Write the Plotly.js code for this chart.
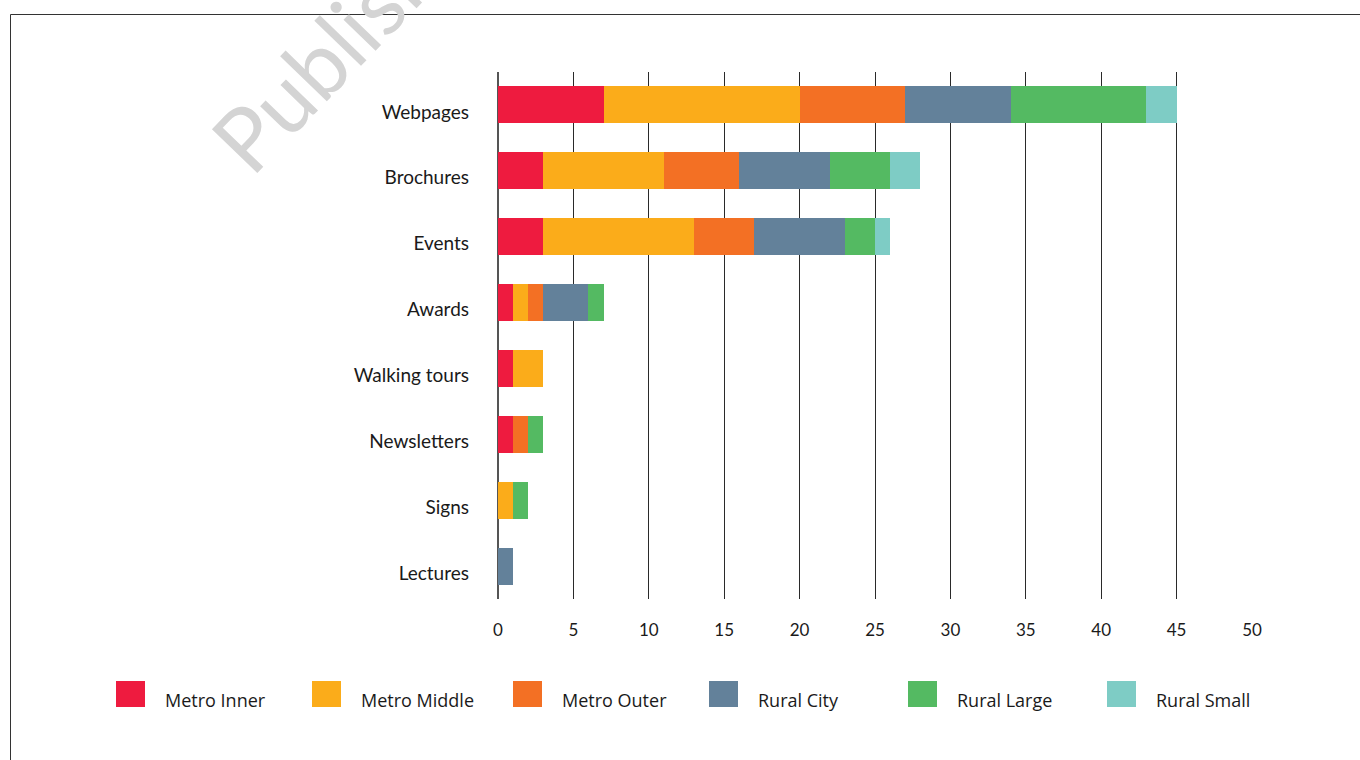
<!DOCTYPE html>
<html>
<head>
<meta charset="utf-8">
<script src="https://cdn.plot.ly/plotly-3.0.1.min.js"></script>
<style>
html,body{margin:0;padding:0;background:#fff;overflow:hidden;}
#chart{width:1360px;height:760px;}
</style>
</head>
<body>
<div id="chart"></div>
<script>
const categories = ["Webpages","Brochures","Events","Awards","Walking tours","Newsletters","Signs","Lectures"];
const seriesNames = ["Metro Inner","Metro Middle","Metro Outer","Rural City","Rural Large","Rural Small"];
const seriesColors = ["#EE1B3F","#FBAC1A","#F37024","#63819A","#54BA62","#7ECCC5"];
const metroInner  = [7, 3, 3, 1, 1, 1, 0, 0];
const metroMiddle = [13, 8, 10, 1, 2, 0, 1, 0];
const metroOuter  = [7, 5, 4, 1, 0, 1, 0, 0];
const ruralCity   = [7, 6, 6, 3, 0, 0, 0, 1];
const ruralLarge  = [9, 4, 2, 1, 0, 1, 1, 0];
const ruralSmall  = [2, 2, 1, 0, 0, 0, 0, 0];
const seriesValues = [metroInner, metroMiddle, metroOuter, ruralCity, ruralLarge, ruralSmall];
const xTicks = [0,5,10,15,20,25,30,35,40,45,50];

// plot area in pixels
const L = 498, R = 1252, T = 72, B = 599;
const px = x => (x - L) / (R - L);
const py = y => (B - y) / (B - T);

const traces = seriesNames.map((n, i) => ({
  type: 'bar', orientation: 'h', name: n,
  x: seriesValues[i], y: categories,
  marker: {color: seriesColors[i], line: {width: 0}},
  hoverinfo: 'x+y+name'
}));

const shapes = [
  // frame
  {type:'rect', xref:'paper', yref:'paper', x0:px(10.5), x1:px(1380), y0:py(14.5), y1:py(780),
   line:{color:'#333', width:1}, fillcolor:'rgba(0,0,0,0)', layer:'below'}
];
const annotations = [
  {text:'Published', xref:'paper', yref:'paper', x:px(358), y:py(20), xanchor:'center', yanchor:'middle',
   showarrow:false, textangle:-46, font:{family:'Lato', size:88, color:'#d4d4d4'}}
];
const legX = [116, 312, 513, 709, 908, 1107];
seriesNames.forEach((n, i) => {
  shapes.push({type:'rect', xref:'paper', yref:'paper', x0:px(legX[i]), x1:px(legX[i]+29),
    y0:py(707), y1:py(681), fillcolor:seriesColors[i], line:{width:0}});
  annotations.push({text:n, xref:'paper', yref:'paper', x:px(legX[i]+47), y:py(700),
    xanchor:'left', yanchor:'middle', showarrow:false,
    font:{family:'Open Sans', size:18, color:'#1a1a1a'}});
});

const layout = {
  width:1360, height:760,
  margin:{l:L, r:1360-R, t:T, b:760-B, pad:0},
  paper_bgcolor:'#fff', plot_bgcolor:'#fff',
  barmode:'stack', bargap:0.44, showlegend:false,
  xaxis:{range:[0,50], tickvals:xTicks, ticktext:xTicks.map(String),
    showgrid:true, gridcolor:'#2a2a2a', gridwidth:1,
    zeroline:true, zerolinecolor:'#555', zerolinewidth:2,
    showline:false, ticks:'', ticklabelstandoff:19,
    tickfont:{family:'Lato', size:17, color:'#1a1a1a'}, fixedrange:true},
  yaxis:{type:'category', categoryorder:'array', categoryarray:categories,
    range:[7.5,-0.5], showgrid:false, zeroline:false, showline:false, ticks:'',
    ticklabelstandoff:28, ticklabelshift:-7,
    tickfont:{family:'Lato', size:19, color:'#1a1a1a'}, fixedrange:true},
  shapes:shapes, annotations:annotations
};

Plotly.newPlot('chart', traces, layout, {displayModeBar:false, staticPlot:true});
</script>
</body>
</html>
